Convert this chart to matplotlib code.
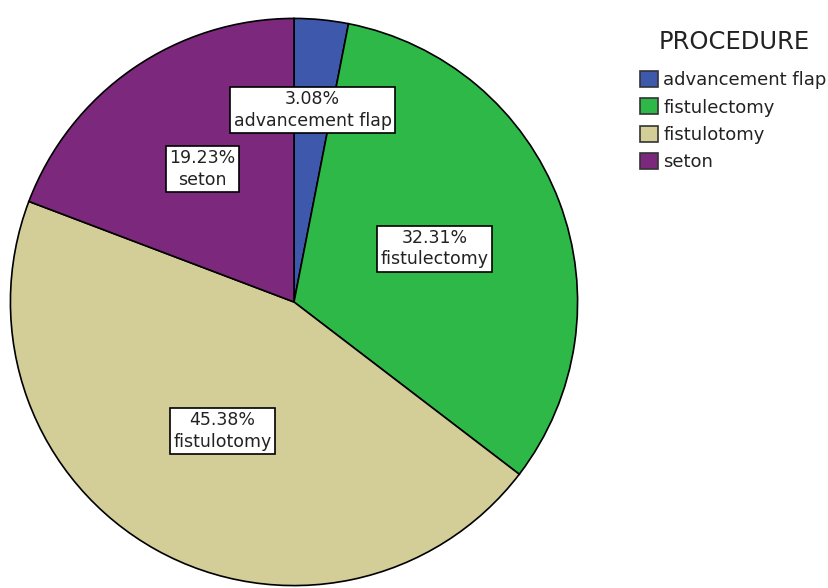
import numpy as np
import matplotlib
matplotlib.use("Agg")
import matplotlib.pyplot as plt

procedures = ["advancement flap", "fistulectomy", "fistulotomy", "seton"]
percents = [3.08, 32.31, 45.38, 19.23]
colors = ["#3e58ac", "#2eb848", "#d3ce97", "#7c287d"]

# radial distance of each label box (fraction of radius)
label_dist = [0.68, 0.53, 0.52, 0.57]

plt.rcParams["font.family"] = ["DejaVu Sans"]

fig = plt.figure(figsize=(8.29, 5.88), dpi=100)
ax = fig.add_axes([9 / 829, 1 / 588, 570 / 829, 570 / 588])

wedges, _ = ax.pie(
    percents,
    colors=colors,
    startangle=90,
    counterclock=False,
    radius=1,
    wedgeprops=dict(edgecolor="black", linewidth=1.2),
)

for w, name, pct, d in zip(wedges, procedures, percents, label_dist):
    ang = np.deg2rad((w.theta1 + w.theta2) / 2)
    ax.text(
        d * np.cos(ang),
        d * np.sin(ang),
        f"{pct:.2f}%\n{name}",
        ha="center",
        va="center",
        fontsize=12.5,
        linespacing=1.25,
        color="#222222",
        bbox=dict(boxstyle="square,pad=0.2", facecolor="white",
                  edgecolor="black", linewidth=1.2),
    )

ax.set_xlim(-1.005, 1.005)
ax.set_ylim(-1.005, 1.005)
ax.set_aspect("equal")
ax.axis("off")

fig.text(734 / 829, 1 - 42 / 588, "PROCEDURE", ha="center", va="center",
         fontsize=17.5, color="#222222")

leg = fig.legend(
    wedges,
    procedures,
    loc="upper left",
    bbox_to_anchor=(640 / 829, 1 - 71 / 588),
    frameon=False,
    fontsize=13,
    handlelength=1.0,
    handleheight=1.0,
    handletextpad=0.3,
    labelspacing=0.5,
    borderaxespad=0,
    borderpad=0,
)
for h in leg.legend_handles:
    h.set_edgecolor("#333333")
    h.set_linewidth(1.2)
for t in leg.get_texts():
    t.set_color("#222222")

fig.savefig("out.png", dpi=100)
